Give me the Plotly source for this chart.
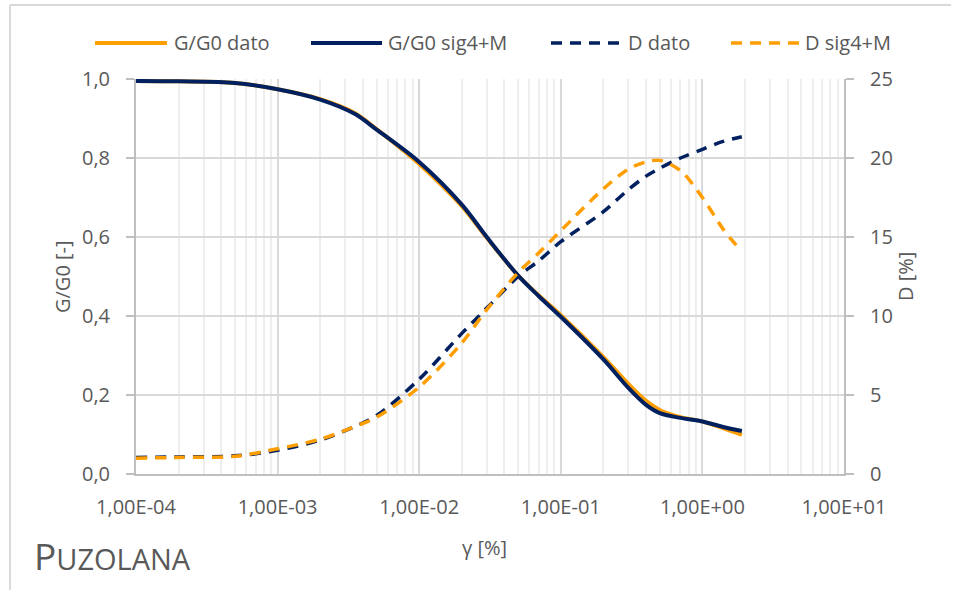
import plotly.graph_objects as go

# strain values [%]
gamma = [1e-4, 2e-4, 5e-4, 1e-3, 2e-3, 3.5e-3, 5e-3, 1e-2, 2e-2, 3e-2, 5e-2, 7e-2,
         1e-1, 2e-1, 3e-1, 4e-1, 5e-1, 7e-1, 1.0, 1.4, 1.9]

gg0_dato = [0.995, 0.994, 0.990, 0.974, 0.949, 0.914, 0.873, 0.785, 0.678, 0.598, 0.502, 0.452,
            0.402, 0.296, 0.228, 0.185, 0.162, 0.144, 0.133, 0.116, 0.099]
gg0_sig4m = [0.995, 0.994, 0.990, 0.974, 0.948, 0.912, 0.872, 0.790, 0.682, 0.600, 0.502, 0.450,
             0.398, 0.290, 0.218, 0.175, 0.154, 0.142, 0.133, 0.119, 0.109]
d_dato = [1.05, 1.08, 1.15, 1.50, 2.15, 3.00, 3.70, 6.00, 8.90, 10.50, 12.50, 13.50,
          14.70, 16.60, 18.00, 18.85, 19.35, 20.00, 20.55, 21.05, 21.35]
d_sig4m = [1.00, 1.05, 1.12, 1.60, 2.20, 3.00, 3.60, 5.50, 8.30, 10.40, 12.75, 14.00,
           15.40, 18.05, 19.30, 19.75, 19.85, 19.20, 17.50, 15.50, 14.07]

series_names = ["G/G0 dato", "G/G0 sig4+M", "D dato", "D sig4+M"]

x_tickvals = [1e-4, 1e-3, 1e-2, 1e-1, 1e0, 1e1]
x_ticktext = ["1,00E-04", "1,00E-03", "1,00E-02", "1,00E-01", "1,00E+00", "1,00E+01"]
y_tickvals = [0, 0.2, 0.4, 0.6, 0.8, 1.0]
y_ticktext = ["0,0", "0,2", "0,4", "0,6", "0,8", "1,0"]
y2_tickvals = [0, 5, 10, 15, 20, 25]

ORANGE = "#FF9E00"
NAVY = "#002060"
TXT = "#595959"
FONT = "Open Sans"
DASH = "11px,8px"

styles = [
    dict(color=ORANGE, width=4, dash="solid"),
    dict(color=NAVY, width=4, dash="solid"),
    dict(color=NAVY, width=3.5, dash=DASH),
    dict(color=ORANGE, width=3.5, dash=DASH),
]
values = [gg0_dato, gg0_sig4m, d_dato, d_sig4m]
axes = ["y", "y", "y2", "y2"]

fig = go.Figure()
for name, vals, st, ax in zip(series_names, values, styles, axes):
    fig.add_trace(go.Scatter(x=gamma, y=vals, name=name, mode="lines", yaxis=ax,
                             line=dict(color=st["color"], width=st["width"],
                                       dash=st["dash"], shape="spline", smoothing=0.9)))

L, T = 136, 79
W, H = 708, 395

def px(xp):
    return (xp - L) / W

def py(yp):
    return (T + H - yp) / H

# manual legend (line segment and text positions in pixels)
leg_lines = [(95, 167), (311, 382), (551, 620), (731, 800)]
leg_text_x = [172, 386, 626, 803]
LEG_Y = 43

shapes = [
    dict(type="line", xref="paper", yref="paper", x0=px(10), x1=px(951), y0=py(5), y1=py(5),
         line=dict(color="#D9D9D9", width=2)),
    dict(type="line", xref="paper", yref="paper", x0=px(10), x1=px(10), y0=py(5), y1=py(600),
         line=dict(color="#D9D9D9", width=2)),
]
annotations = []
for (a, b), tx, st, name in zip(leg_lines, leg_text_x, styles, series_names):
    shapes.append(dict(type="line", xref="paper", yref="paper", x0=px(a), x1=px(b),
                       y0=py(LEG_Y), y1=py(LEG_Y),
                       line=dict(color=st["color"], width=st["width"], dash=st["dash"])))
    annotations.append(dict(text=name, xref="paper", yref="paper", x=px(tx), y=py(LEG_Y),
                            showarrow=False, xanchor="left", yanchor="middle",
                            font=dict(size=20, color=TXT)))

annotations += [
    dict(text="G/G0 [-]", xref="paper", yref="paper", x=px(62), y=py(277),
         textangle=-90, showarrow=False, font=dict(size=20, color=TXT),
         xanchor="center", yanchor="middle"),
    dict(text="D [%]", xref="paper", yref="paper", x=px(905), y=py(277),
         textangle=-90, showarrow=False, font=dict(size=20, color=TXT),
         xanchor="center", yanchor="middle"),
    dict(text="γ [%]", xref="paper", yref="paper", x=px(484), y=py(547),
         showarrow=False, font=dict(size=20, color=TXT),
         xanchor="center", yanchor="middle"),
    dict(text="P<span style='font-size:29px'>UZOLANA</span>", xref="paper", yref="paper",
         x=px(32), y=py(555), showarrow=False, font=dict(size=37, color=TXT),
         xanchor="left", yanchor="middle"),
]

fig.update_layout(
    width=957, height=590,
    margin=dict(l=L, r=957 - L - W, t=T, b=590 - T - H),
    paper_bgcolor="white", plot_bgcolor="white",
    font=dict(family=FONT, color=TXT, size=20),
    showlegend=False,
    hovermode=False,
    xaxis=dict(type="log", range=[-4, 1], tickvals=x_tickvals, ticktext=x_ticktext,
               showgrid=True, gridcolor="#D9D9D9", gridwidth=1.5,
               minor=dict(showgrid=True, gridcolor="#EEEEEE", gridwidth=1.5, dtick="D1"),
               showline=True, linecolor="#BFBFBF", linewidth=2, zeroline=False,
               ticks="", ticklabelstandoff=14, tickfont=dict(size=20, color=TXT)),
    yaxis=dict(range=[0, 1], tickvals=y_tickvals, ticktext=y_ticktext,
               showgrid=True, gridcolor="#D9D9D9", gridwidth=1.5, zeroline=False,
               showline=True, linecolor="#BFBFBF", linewidth=2,
               ticks="outside", ticklen=8, tickcolor="#BFBFBF", tickwidth=1.5,
               ticklabelstandoff=12, tickfont=dict(size=20, color=TXT)),
    yaxis2=dict(range=[0, 25], tickvals=y2_tickvals, overlaying="y", side="right",
                showgrid=False, zeroline=False,
                showline=True, linecolor="#BFBFBF", linewidth=2,
                ticks="outside", ticklen=8, tickcolor="#BFBFBF", tickwidth=1.5,
                ticklabelstandoff=12, tickfont=dict(size=20, color=TXT)),
    shapes=shapes,
    annotations=annotations,
)

fig.write_html("out.html", config={"displayModeBar": False},
               post_script="document.body.style.margin='0px';document.body.style.overflow='hidden';")
